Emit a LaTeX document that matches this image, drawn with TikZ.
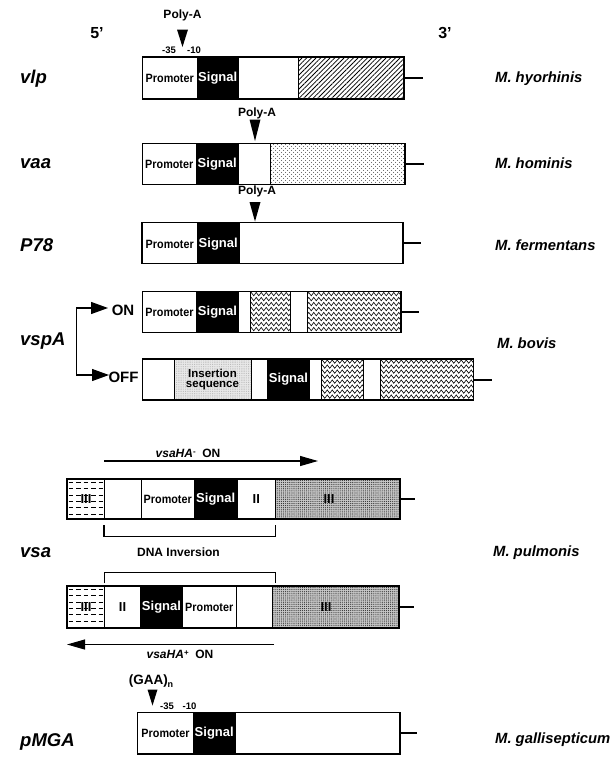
\documentclass[tikz,border=0pt]{standalone}
\usepackage{fontspec}
\setmainfont{Liberation Sans}
\usetikzlibrary{patterns,patterns.meta,decorations.pathmorphing,arrows.meta}
\newcommand{\fsz}[1]{\fontsize{#1}{#1}\selectfont}
\newcommand{\gbox}[5]{%
  \node[gbx, minimum width={#4pt-#2pt}, minimum height={#5pt-#3pt}] (#1) at ({(#2+#4)/2},{(#3+#5)/2}) {};}
\newcommand{\sepl}[3]{\draw[sepline] (#1,#2) -- (#1,#3);}
\newcommand{\mySignal}[4]{\fill[black] (#1,#2) rectangle (#3,#4);}
\newcommand{\myHatch}[4]{\fill[pattern={Lines[angle=45,distance=3.3pt,line width=0.75pt]}] (#1,#2) rectangle (#3,#4);}
\newcommand{\myStip}[4]{%
  \fill[pattern={Dots[radius=0.5pt,distance=4pt]}] (#1,#2) rectangle (#3,#4);
  \fill[pattern={Dots[radius=0.5pt,distance=4pt,xshift=2pt,yshift=2pt]}] (#1,#2) rectangle (#3,#4);}
\newcommand{\myIns}[4]{%
  \fill[black!9] (#1,#2) rectangle (#3,#4);
  \fill[pattern={Dots[radius=0.35pt,distance=1.8pt]},pattern color=black!40] (#1,#2) rectangle (#3,#4);}
\newcommand{\myGrey}[4]{%
  \fill[black!22] (#1,#2) rectangle (#3,#4);
  \fill[pattern={Dots[radius=0.6pt,distance=2.1pt]},pattern color=black!80] (#1,#2) rectangle (#3,#4);}
\newcommand{\myWavy}[4]{%
  \begin{scope}
    \clip (#1,#2) rectangle (#3,#4);
    \foreach \k in {0,...,8}{
      \draw[line width=0.6pt, decorate, decoration={zigzag,segment length=5pt,amplitude=1.7pt}]
        (#1-5,#2+2.6+\k*5) -- (#3+5,#2+2.6+\k*5);
    }
  \end{scope}}
\newcommand{\myDash}[4]{%
  \begin{scope}
    \clip (#1,#2) rectangle (#3,#4);
    \foreach \k in {0,...,6}{
      \draw[line width=0.8pt, dash pattern=on 4.5pt off 3pt] (#1+1.5,#2+3.5+\k*6.3) -- (#3,#2+3.5+\k*6.3);
    }
  \end{scope}}
\newcommand{\promtxt}{\scalebox{0.9}[1]{Promoter}}
\tikzset{bigtip/.tip={Triangle[length=17pt,width=12pt]},
         midtip/.tip={Triangle[length=18pt,width=10pt]}}
\begin{document}
\begin{tikzpicture}[x=1pt,y=-1pt,
  gbx/.style={draw=black,line width=1.1pt,inner sep=0pt,outer sep=0pt},
  sepline/.style={line width=0.9pt},
  tailline/.style={line width=1.3pt},
  prom/.style={inner sep=0pt,font=\bfseries\fsz{12}},
  sig/.style={inner sep=0pt,text=white,font=\bfseries\fsz{13}},
  small/.style={inner sep=0pt,font=\bfseries\fsz{12}},
  roman/.style={inner sep=0pt,font=\bfseries\fsz{13}},
  tiny/.style={inner sep=0pt,font=\bfseries\fsz{9.5}},
  gene/.style={inner sep=0pt,anchor=west,font=\bfseries\itshape\fsz{18.5}},
  spec/.style={inner sep=0pt,anchor=west,font=\bfseries\itshape\fsz{14.8}},
  big/.style={inner sep=0pt,font=\bfseries\fsz{16}},
  onoff/.style={inner sep=0pt,font=\bfseries\fsz{15}},
]
\useasboundingbox (0,0) rectangle (614,766);

% ---------------- header
\node[big] (five) at (97,33) {5'};
\node[big] (three) at (445,33) {3'};

% ---------------- vlp
\node[small] (polyA1) at (182.5,15) {Poly-A};
\fill (177,29.5) -- (188,29.5) -- (182.5,47) -- cycle;
\node[tiny] (m35a) at (169,50) {-35};
\node[tiny] (m10a) at (194,50) {-10};
\mySignal{197}{57}{238.5}{99}
\myHatch{298.5}{57}{404}{99}
\sepl{197}{57}{99}\sepl{238.5}{57}{99}\sepl{298.5}{57}{99}
\gbox{vlpbox}{142.5}{57}{404}{99}
\node[prom] (vlpP) at (169.75,78) {\promtxt};
\node[sig] (vlpS) at (217.75,78) {Signal};
\coordinate (vlpend) at (423,78);
\draw[tailline] (vlpbox.east) -- (vlpend);
\node[gene] (vlp) at (20,78.5) {vlp};
\node[spec] (hyo) at (495,78.5) {M. hyorhinis};

% ---------------- vaa
\node[small] (polyA2) at (257,113.5) {Poly-A};
\fill (249.5,119.5) -- (260.5,119.5) -- (255,141) -- cycle;
\mySignal{196}{143.5}{238.5}{184.5}
\myStip{270}{143.5}{405}{184.5}
\sepl{196}{143.5}{184.5}\sepl{238.5}{143.5}{184.5}\sepl{270}{143.5}{184.5}
\gbox{vaabox}{142.5}{143.5}{405}{184.5}
\node[prom] (vaaP) at (169.25,164) {\promtxt};
\node[sig] (vaaS) at (217.25,164) {Signal};
\coordinate (vaaend) at (424,164);
\draw[tailline] (vaabox.east) -- (vaaend);
\node[gene] (vaa) at (20,163.5) {vaa};
\node[spec] (hom) at (495,163.5) {M. hominis};

% ---------------- P78
\node[small] (polyA3) at (257,191.5) {Poly-A};
\fill (249.5,202) -- (260.5,202) -- (255,221.5) -- cycle;
\mySignal{197.5}{222.5}{239}{263.5}
\sepl{197.5}{222.5}{263.5}\sepl{239}{222.5}{263.5}
\gbox{pbox}{142}{222.5}{403}{263.5}
\node[prom] (pP) at (169.75,244) {\promtxt};
\node[sig] (pS) at (218.25,244) {Signal};
\coordinate (pend) at (421,243);
\draw[tailline] (pbox.east) -- (pend);
\node[gene] (p78) at (20,245) {P78};
\node[spec] (fer) at (495,245) {M. fermentans};

% ---------------- vspA ON
\mySignal{196.5}{291.5}{238.5}{332.5}
\myWavy{250}{291.5}{290.5}{332.5}
\myWavy{307.5}{291.5}{401}{332.5}
\sepl{196.5}{291.5}{332.5}\sepl{238.5}{291.5}{332.5}\sepl{250}{291.5}{332.5}
\sepl{290.5}{291.5}{332.5}\sepl{307.5}{291.5}{332.5}
\gbox{onbox}{142.5}{291.5}{401}{332.5}
\node[prom] (onP) at (169.5,312) {\promtxt};
\node[sig] (onS) at (217.5,312) {Signal};
\coordinate (onend) at (419,312);
\draw[tailline] (onbox.east) -- (onend);

% ---------------- vspA OFF
\myIns{174}{359}{251}{400}
\mySignal{267.5}{359}{309.5}{400}
\myWavy{321}{359}{363.5}{400}
\myWavy{380}{359}{473.5}{400}
\foreach \xx in {174,251,267.5,309.5,321,363.5,380}{\sepl{\xx}{359}{400}}
\gbox{offbox}{142.5}{359}{473.5}{400}
\node[inner sep=0pt,font=\bfseries\fsz{11.5},align=center] (ins) at (212.5,379.5) {Insertion\\[-1pt]sequence};
\node[sig] (offS) at (288.5,379.5) {Signal};
\coordinate (offend) at (492,380);
\draw[tailline] (offbox.east |- offend) -- (offend);

\node[onoff] (on) at (123,310) {ON};
\node[onoff] (off) at (123.5,377) {OFF};
\coordinate (ontip) at (108,308);
\coordinate (offtip) at (109,375);
\coordinate (brtop) at (76.5,308);
\coordinate (brbot) at (76.5,375);
\draw[line width=1.2pt, bigtip-bigtip] (ontip) -- (brtop) -- (brbot) -- (offtip);
\node[gene] (vspa) at (20,341) {vspA};
\node[spec] (bov) at (497,343) {M. bovis};

% ---------------- vsa top
\node[inner sep=0pt,font=\bfseries\fsz{12}] (haminus) at (188,453.5) {\textit{vsaHA}\raisebox{3.5pt}{\fsz{8}-}\ \ ON};
\coordinate (a1s) at (104,461);
\coordinate (a1e) at (318,461);
\draw[line width=1.1pt, -midtip] (a1s) -- (a1e);

\myDash{67}{479}{104.5}{519}
\mySignal{194.5}{479}{237}{519}
\myGrey{275.5}{479}{400}{519}
\foreach \xx in {104.5,141,194.5,237,275.5}{\sepl{\xx}{479}{519}}
\gbox{vsatop}{67}{479}{400}{519}
\node[roman] (t3a) at (86,499) {III};
\node[prom] (tP) at (167.75,499) {\promtxt};
\node[sig] (tS) at (215.75,499) {Signal};
\node[roman] (t2) at (256.25,499) {II};
\node[roman] (t3b) at (329,499) {III};
\coordinate (vtend) at (415,499);
\draw[tailline] (vsatop.east) -- (vtend);

\coordinate (b1a) at (104,525);
\coordinate (b1b) at (275.5,525);
\draw[line width=1.1pt] (b1a) -- (104,536.5) -- (275.5,536.5) -- (b1b);
\node[small] (dna) at (178.5,552) {DNA Inversion};
\node[gene] (vsa) at (20,553) {vsa};
\node[spec] (pul) at (493,553) {M. pulmonis};

% ---------------- vsa bottom
\coordinate (b2a) at (104.5,583);
\coordinate (b2b) at (275.5,583);
\draw[line width=1.1pt] (b2a) -- (104.5,572.5) -- (275.5,572.5) -- (b2b);
\myDash{67}{586}{104.5}{628}
\mySignal{140.5}{586}{182.5}{628}
\myGrey{272.5}{586}{399}{628}
\foreach \xx in {104.5,140.5,182.5,236,272.5}{\sepl{\xx}{586}{628}}
\gbox{vsabot}{67}{586}{399}{628}
\node[roman] (u3a) at (86,607) {III};
\node[roman] (u2) at (122.5,607) {II};
\node[sig] (uS) at (161.5,607) {Signal};
\node[prom] (uP) at (209.25,607) {\promtxt};
\node[roman] (u3b) at (326,607) {III};
\coordinate (vbend) at (414,607);
\draw[tailline] (vsabot.east) -- (vbend);

\coordinate (a2s) at (274,644.5);
\coordinate (a2e) at (67,644.5);
\draw[line width=1.1pt, -midtip] (a2s) -- (a2e);
\node[inner sep=0pt,font=\bfseries\fsz{12}] (haplus) at (180,654.5) {\textit{vsaHA}\raisebox{3.5pt}{\fsz{8}+}\ \ ON};

% ---------------- pMGA
\node[inner sep=0pt,font=\bfseries\fsz{13.5}] (gaa) at (151,681) {(GAA)\raisebox{-3pt}{\fsz{9}n}};
\fill (147.5,689.5) -- (157.5,689.5) -- (152.5,705.5) -- cycle;
\node[tiny] (m35b) at (167,706) {-35};
\node[tiny] (m10b) at (189.5,706) {-10};
\mySignal{193.5}{712.5}{235}{754}
\sepl{193.5}{712.5}{754}\sepl{235}{712.5}{754}
\gbox{pmgabox}{137.5}{712.5}{400}{754}
\node[prom] (gP) at (165.5,733.5) {\promtxt};
\node[sig] (gS) at (214.25,733.5) {Signal};
\coordinate (gend) at (417,733);
\draw[tailline] (pmgabox.east |- gend) -- (gend);
\node[gene] (pmga) at (20,742) {pMGA};
\node[spec] (gal) at (495,739.5) {M. gallisepticum};
\end{tikzpicture}
\end{document}
